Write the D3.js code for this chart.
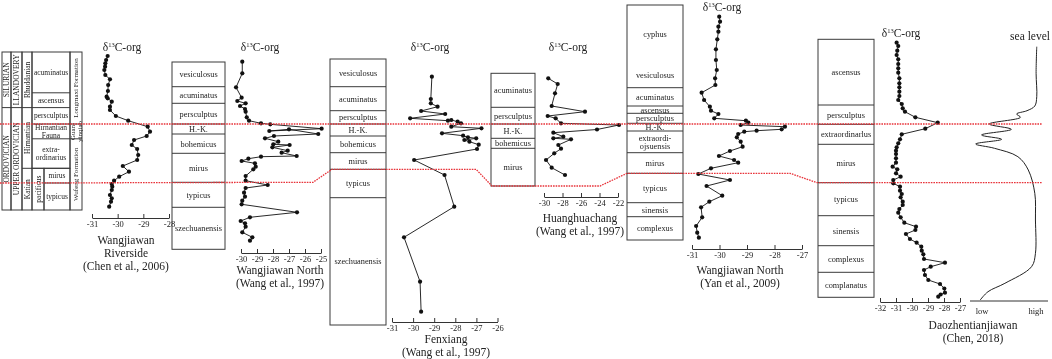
<!DOCTYPE html>
<html>
<head>
<meta charset="utf-8">
<script src="https://cdn.jsdelivr.net/npm/d3@7"></script>
<style>
  body { margin: 0; background: #fff; }
  svg { display: block; font-family: "Liberation Serif", "Times New Roman", serif; will-change: transform; }
</style>
</head>
<body>
<div id="chart"></div>
<script>
// ---------- data: levels are heights above the base of each drawn section ----------

// chronostratigraphic reference table
var periodNames = ["SILURIAN", "ORDOVICIAN"];
var periodLevels = [158, 102.4, 0];
var seriesNames = ["LLANDOVERY", "UPPER ORDOVICIAN"];
var stageNames = ["Rhuddanian", "Hirnantian", "Katian"];
var stageLevels = [158, 102.4, 41.7, 0];
var refZoneNames = ["acuminatus", "ascensus", "persculptus", "Hirnantian|Fauna", "extra-|ordinarius"];
var refZoneLevels = [158, 117.2, 102.4, 86, 71.2, 41.7];
var pacificusLevels = [41.7, 0];
var katianZoneNames = ["mirus", "typicus"];
var katianZoneLevels = [41.7, 27, 0];
var formationNames = ["Longmaxi Formation", "Guan-|yinqiao", "Wufeng Formation"];
var formationLevels = [158, 86, 71.2, 0];

// Wangjiawan Riverside (Chen et al., 2006)
var riversideTicks = [-31, -30, -29, -28];
var riversideD13C = [-30.39, -30.45, -30.48, -30.49, -30.52, -30.48, -30.30, -30.37, -30.38, -30.43, -30.39, -30.23, -30.30, -30.30, -30.07, -29.59, -28.83, -28.74, -28.87, -29.36, -29.45, -29.24, -29.20, -29.24, -29.80, -29.56, -29.94, -30.14, -30.23, -30.21, -30.23, -30.30, -30.23, -30.26, -30.33];
var riversideLevel = [154, 150, 146.7, 143.3, 140, 135, 130.7, 125, 119, 113.3, 111.7, 108.3, 103.3, 100, 94, 89.3, 83.3, 78.3, 74, 70, 65, 61, 55, 50, 44, 38.3, 33.3, 29.3, 26, 23.3, 20, 15, 11.7, 8.3, 3.3];

// Wangjiawan North (Wang et al., 1997)
var wangZoneNames = ["vesiculosus", "acuminatus", "persculptus", "H.-K.", "bohemicus", "mirus", "typicus", "szechuanensis"];
var wangZoneLevels = [187.3, 162.6, 146, 125.3, 115.3, 96, 67, 42, 0];
var wangTicks = [-30, -29, -28, -27, -26, -25];
var wangD13C = [-29.92, -29.92, -30.31, -29.96, -30.23, -29.71, -30.06, -29.75, -29.71, -29.64, -29.50, -28.75, -28.17, -24.96, -28.23, -27.00, -25.17, -27.94, -28.50, -27.67, -27.98, -26.96, -28.04, -27.08, -27.46, -26.52, -28.75, -29.54, -29.96, -29.13, -29.08, -29.23, -29.71, -29.71, -28.33, -29.71, -29.81, -29.75, -29.92, -29.96, -26.50, -29.44, -30.02, -29.75, -29.71, -29.92, -29.29, -29.44];
var wangLevel = [187.6, 176, 162, 151.6, 148.3, 146, 143.3, 140.3, 137.6, 132, 128.6, 126, 125, 120.6, 118.3, 120, 115.3, 113.3, 111, 107.6, 105, 104.3, 102, 98.6, 96.6, 93.3, 92.6, 90.6, 88.3, 86, 82.6, 80, 73.3, 68.6, 64.3, 61.3, 56.6, 52.6, 48.6, 45, 37, 32, 28.3, 26, 22.6, 17, 12, 8.6];

// Fenxiang (Wang et al., 1997)
var fenxiangZoneNames = ["vesiculosus", "acuminatus", "persculptus", "H.-K.", "bohemicus", "mirus", "typicus", "szechuanensis"];
var fenxiangZoneLevels = [266, 238.3, 214.3, 201, 189, 172.3, 155.7, 127.3, 0];
var fenxiangTicks = [-31, -30, -29, -28, -27, -26];
var fenxiangD13C = [-29.11, -29.16, -29.16, -28.84, -29.62, -28.48, -30.14, -28.35, -28.19, -27.89, -27.73, -28.19, -26.76, -28.63, -27.63, -27.40, -27.01, -27.57, -27.33, -26.89, -26.97, -29.95, -28.51, -28.05, -30.43, -29.67, -29.62];
var fenxiangLevel = [248.3, 226, 221.7, 218.3, 214, 211, 206.7, 204.3, 205, 203.3, 201.7, 198.3, 196.7, 191.7, 189.3, 187.7, 186.7, 185, 183.3, 180.3, 176, 165, 150, 118.3, 87.7, 43.3, 13.3];

// Huanghuachang (Wang et al., 1997)
var huangZoneNames = ["acuminatus", "persculptus", "H.-K.", "bohemicus", "mirus"];
var huangZoneLevels = [112.7, 78.7, 62, 47.7, 37.7, 0];
var huangTicks = [-30, -28, -26, -24, -22];
var huangD13C = [-29.54, -28.52, -28.81, -29.17, -25.57, -29.60, -28.74, -28.16, -21.89, -24.27, -28.99, -27.91, -28.99, -27.08, -28.45, -28.16, -28.89, -29.78, -29.17, -27.73];
var huangLevel = [107.7, 102, 92.7, 80, 74.3, 70, 67.7, 62.7, 61, 56.5, 53.3, 49.3, 47.7, 46.7, 41, 37.3, 32.7, 26, 18.3, 11];

// Wangjiawan North (Yan et al., 2009)
var yanZoneNames = ["cyphus", "vesiculosus", "acuminatus", "ascensus", "persculptus", "H.-K.", "extraordi-|ojsuensis", "mirus", "typicus", "sinensis", "complexus"];
var yanZoneLevels = [235, 177, 152.3, 134, 126.7, 116.7, 109, 87.3, 66.7, 37.3, 23.3, 0];
var yanHiddenBoundaries = [177];
var yanTicks = [-31, -30, -29, -28, -27];
var yanD13C = [-30.01, -29.98, -30.04, -30.04, -30.08, -30.13, -30.13, -30.10, -30.16, -30.15, -30.65, -30.56, -30.35, -30.31, -30.04, -30.19, -29.04, -28.95, -29.23, -27.62, -27.74, -28.65, -29.10, -29.32, -29.37, -29.23, -29.16, -29.62, -30.02, -29.47, -29.32, -30.31, -30.77, -29.62, -30.47, -29.90, -30.37, -30.67, -30.63, -30.85, -30.81, -30.75];
var yanLevel = [223.3, 218.3, 213.3, 208.3, 200.7, 190.7, 180, 170, 161.7, 155, 147.3, 140, 133.3, 129.3, 126, 121.7, 119.3, 117.3, 115, 113.3, 110.7, 109.3, 108.3, 106, 102.7, 98.3, 93.3, 89, 84, 80, 77.3, 71.7, 66, 60, 54, 44.3, 38.3, 32.7, 22.7, 14, 7.3, 2.3];

// Daozhentianjiawan (Chen, 2018)
var daoZoneNames = ["ascensus", "persculptus", "extraordinarlus", "mirus", "typicus", "sinensis", "complexus", "complanatus"];
var daoZoneLevels = [258, 192.3, 173, 153, 114.6, 81.6, 51.6, 25, 0];
var daoTicks = [-32, -31, -30, -29, -28, -27];
var daoD13C = [-30.96, -30.86, -30.92, -30.96, -30.86, -30.86, -30.86, -30.86, -30.79, -30.79, -30.79, -30.79, -30.79, -30.86, -30.64, -30.58, -30.44, -29.79, -28.39, -29.17, -30.64, -30.75, -30.86, -30.96, -31.0, -31.0, -31.0, -31.0, -31.21, -30.92, -31.0, -30.71, -31.17, -31.17, -30.75, -30.75, -30.64, -30.71, -30.58, -30.58, -30.79, -30.86, -30.71, -30.48, -29.75, -29.79, -30.38, -30.13, -29.71, -29.42, -29.39, -29.29, -29.25, -27.94, -28.83, -29.25, -29.19, -28.98, -28.25, -27.98, -27.94, -28.21, -28.36];
var daoLevel = [254.6, 251.3, 246.6, 242.3, 238, 233.3, 229, 224.6, 219, 214, 210, 205.6, 201.3, 197.3, 193.3, 189, 185.6, 180, 174.6, 168.6, 163, 158, 154, 150, 146.6, 143.3, 139, 134.6, 130.6, 128, 124, 120.6, 117.3, 114, 110.6, 106.6, 103.3, 100, 95.6, 92.3, 88.3, 84.6, 80, 74.6, 70.6, 67.3, 63.3, 58.3, 54.6, 50.6, 46.6, 43, 38.3, 34.6, 30.6, 27.3, 22.3, 17.3, 13.3, 8.8, 4.6, 2.8, 0.6];

// sea level curve (0 = low, 1 = high)
var seaLevelValue = [0.95, 0.94, 0.95, 0.92, 0.80, 0.64, 0.70, 0.22, 0.56, 0.10, 0.41, 0.01, 0.30, 0.66, 0.82, 0.92, 0.93, 0.93, 0.87, 0.46, 0.20, 0.08];
var seaLevelHeight = [254.3, 227.7, 204.3, 195, 190.3, 187, 183.7, 177, 171.7, 166, 161.7, 157, 152.7, 144.3, 131, 107.7, 81, 47.7, 34.3, 17.7, 9.3, 1];

// ---------- drawing ----------
var svgWidth = 1052;
var svgHeight = 359;

var svg = d3.select("#chart")
  .append("svg")
  .attr("width", svgWidth)
  .attr("height", svgHeight);

var ink = "#222";
var boxStroke = "#3a3a3a";

// y scale for one section: height above base -> page y
function sectionScale(base, span) {
  return d3.scaleLinear().domain([0, span]).range([base, base - span]);
}

function multiText(g, x, y, label, size, rotate) {
  var parts = label.split("|");
  var t = g.append("text")
    .attr("text-anchor", "middle")
    .attr("font-size", size)
    .attr("fill", ink)
    .attr("transform", "translate(" + x + "," + y + ")" + (rotate ? " rotate(-90)" : ""));
  parts.forEach(function(p, j) {
    t.append("tspan")
      .attr("x", 0)
      .attr("dy", j === 0 ? (0.35 - (parts.length - 1) * 0.5) + "em" : "1em")
      .text(p);
  });
}

// a column of zones between x0 and x1
function zoneColumn(x0, x1, y, names, levels, size, rotate, hidden) {
  var g = svg.append("g");
  var top = y(levels[0]), bottom = y(levels[levels.length - 1]);
  g.append("rect")
    .attr("x", x0).attr("y", top)
    .attr("width", x1 - x0).attr("height", bottom - top)
    .attr("fill", "none").attr("stroke", boxStroke).attr("stroke-width", 1);
  levels.slice(1, -1).forEach(function(l) {
    if (hidden && hidden.indexOf(l) >= 0) return;
    g.append("line")
      .attr("x1", x0).attr("x2", x1)
      .attr("y1", y(l)).attr("y2", y(l))
      .attr("stroke", boxStroke).attr("stroke-width", 1);
  });
  names.forEach(function(n, i) {
    var cy = (y(levels[i]) + y(levels[i + 1])) / 2;
    multiText(g, (x0 + x1) / 2, cy, n, size, rotate);
  });
}

function carbonCurve(vals, levels, x, y) {
  var pts = vals.map(function(v, i) { return [v, levels[i]]; });
  var line = d3.line()
    .x(function(d) { return x(d[0]); })
    .y(function(d) { return y(d[1]); });
  svg.append("path")
    .datum(pts)
    .attr("d", line)
    .attr("fill", "none")
    .attr("stroke", "#111")
    .attr("stroke-width", 0.9);
  svg.append("g")
    .selectAll("circle")
    .data(pts)
    .join("circle")
    .attr("cx", function(d) { return x(d[0]); })
    .attr("cy", function(d) { return y(d[1]); })
    .attr("r", 2.1)
    .attr("fill", "#111");
}

function carbonAxis(x, ticks, yPos) {
  var g = svg.append("g")
    .attr("transform", "translate(0," + yPos + ")")
    .call(d3.axisBottom(x)
      .tickValues(ticks)
      .tickSize(-4)
      .tickSizeOuter(0)
      .tickPadding(3)
      .tickFormat(function(d) { return String(d); }));
  g.attr("font-family", null).attr("font-size", 8.5);
  g.selectAll("path, line").attr("stroke", "#333");
  g.selectAll("text").attr("fill", ink);
}

function deltaTitle(cx, baseline) {
  var t = svg.append("text")
    .attr("x", cx).attr("y", baseline)
    .attr("text-anchor", "middle")
    .attr("font-size", 11.5)
    .attr("fill", ink);
  t.append("tspan").text("δ");
  t.append("tspan").attr("font-size", 6.5).attr("dy", -4.5).text("13");
  t.append("tspan").attr("dy", 4.5).text("C-org");
}

function sectionName(cx, baselines, lines) {
  lines.forEach(function(s, i) {
    svg.append("text")
      .attr("x", cx).attr("y", baselines[i])
      .attr("text-anchor", "middle")
      .attr("font-size", 11.5)
      .attr("fill", ink)
      .text(s);
  });
}

// --- reference table + Riverside ---
var yRef = sectionScale(210, 158);
zoneColumn(2, 11, yRef, periodNames, periodLevels, 7.5, true);
zoneColumn(11, 22, yRef, seriesNames, periodLevels, 7.5, true);
zoneColumn(22, 32, yRef, stageNames, stageLevels, 7.5, true);
zoneColumn(32, 70, yRef, refZoneNames, refZoneLevels, 7.5, false);
zoneColumn(32, 44, yRef, ["pacificus"], pacificusLevels, 7.5, true);
zoneColumn(44, 70, yRef, katianZoneNames, katianZoneLevels, 7.5, false);
zoneColumn(70, 82, yRef, formationNames, formationLevels, 7, true);

var xRiver = d3.scaleLinear().domain([-31, -28]).range([92, 169]);
carbonCurve(riversideD13C, riversideLevel, xRiver, yRef);
carbonAxis(xRiver, riversideTicks, 218);
deltaTitle(122, 51);
sectionName(126, [244, 257, 270], ["Wangjiawan", "Riverside", "(Chen et al., 2006)"]);

// --- Wangjiawan North (Wang) ---
var yWang = sectionScale(249.3, 187.3);
zoneColumn(172, 225, yWang, wangZoneNames, wangZoneLevels, 8.3, false);
var xWang = d3.scaleLinear().domain([-30, -25]).range([241, 321]);
carbonCurve(wangD13C, wangLevel, xWang, yWang);
carbonAxis(xWang, wangTicks, 253);
deltaTitle(260, 51);
sectionName(280, [273.5, 286.5], ["Wangjiawan North", "(Wang et al., 1997)"]);

// --- Fenxiang ---
var yFen = sectionScale(325, 266);
zoneColumn(330, 386, yFen, fenxiangZoneNames, fenxiangZoneLevels, 8.3, false);
var xFen = d3.scaleLinear().domain([-31, -26]).range([392, 497.5]);
carbonCurve(fenxiangD13C, fenxiangLevel, xFen, yFen);
carbonAxis(xFen, fenxiangTicks, 322);
deltaTitle(430, 51);
sectionName(446, [343, 355.5], ["Fenxiang", "(Wang et al., 1997)"]);

// --- Huanghuachang ---
var yHuang = sectionScale(186, 112.7);
zoneColumn(491, 535, yHuang, huangZoneNames, huangZoneLevels, 8.3, false);
var xHuang = d3.scaleLinear().domain([-30, -22]).range([544, 618]);
carbonCurve(huangD13C, huangLevel, xHuang, yHuang);
carbonAxis(xHuang, huangTicks, 197);
deltaTitle(568, 51);
sectionName(580, [221.5, 234.5], ["Huanghuachang", "(Wang et al., 1997)"]);

// --- Wangjiawan North (Yan) ---
var yYan = sectionScale(240, 235);
zoneColumn(627, 683, yYan, yanZoneNames, yanZoneLevels, 8.3, false, yanHiddenBoundaries);
var xYan = d3.scaleLinear().domain([-31, -27]).range([692, 802]);
carbonCurve(yanD13C, yanLevel, xYan, yYan);
carbonAxis(xYan, yanTicks, 249);
deltaTitle(722, 11);
sectionName(740, [273.5, 286.5], ["Wangjiawan North", "(Yan et al., 2009)"]);

// --- Daozhentianjiawan ---
var yDao = sectionScale(297.3, 258);
zoneColumn(818, 874, yDao, daoZoneNames, daoZoneLevels, 8.3, false);
var xDao = d3.scaleLinear().domain([-32, -27]).range([880, 960]);
carbonCurve(daoD13C, daoLevel, xDao, yDao);
carbonAxis(xDao, daoTicks, 302);
deltaTitle(901, 37);
sectionName(973, [328.5, 341.5], ["Daozhentianjiawan", "(Chen, 2018)"]);

// --- sea level ---
var ySea = sectionScale(301, 260);
var xSea = d3.scaleLinear().domain([0, 1]).range([975, 1040]);
svg.append("path")
  .datum(seaLevelValue.map(function(v, i) { return [v, seaLevelHeight[i]]; }))
  .attr("d", d3.line()
    .x(function(d) { return xSea(d[0]); })
    .y(function(d) { return ySea(d[1]); })
    .curve(d3.curveCatmullRom))
  .attr("fill", "none")
  .attr("stroke", "#222")
  .attr("stroke-width", 1);
svg.append("line")
  .attr("x1", 970).attr("x2", 1048)
  .attr("y1", ySea(0)).attr("y2", ySea(0))
  .attr("stroke", "#333");
svg.append("text").attr("x", 982).attr("y", 314).attr("text-anchor", "middle")
  .attr("font-size", 8.5).attr("fill", ink).text("low");
svg.append("text").attr("x", 1036).attr("y", 314).attr("text-anchor", "middle")
  .attr("font-size", 8.5).attr("fill", ink).text("high");
svg.append("text").attr("x", 1050).attr("y", 40).attr("text-anchor", "end")
  .attr("font-size", 11.5).attr("fill", ink).text("sea level");

// --- correlation lines ---
var red = "#e8333a";
var upperY = yRef(86);
svg.append("line")
  .attr("x1", 0).attr("x2", 1042)
  .attr("y1", upperY).attr("y2", upperY)
  .attr("stroke", red).attr("stroke-width", 1.3)
  .attr("stroke-dasharray", "1.6,1");

var lowerPts = [
  [0, yRef(27)], [313, yWang(67)],
  [332, yFen(155.7)], [476, yFen(155.7)],
  [492, yHuang(0)], [600, yHuang(0)],
  [627, yYan(66.7)], [790, yYan(66.7)],
  [817, yDao(114.6)], [1042, yDao(114.6)]
];
svg.append("path")
  .attr("d", d3.line()(lowerPts))
  .attr("fill", "none")
  .attr("stroke", red).attr("stroke-width", 1.3)
  .attr("stroke-dasharray", "1.6,1");
</script>
</body>
</html>
